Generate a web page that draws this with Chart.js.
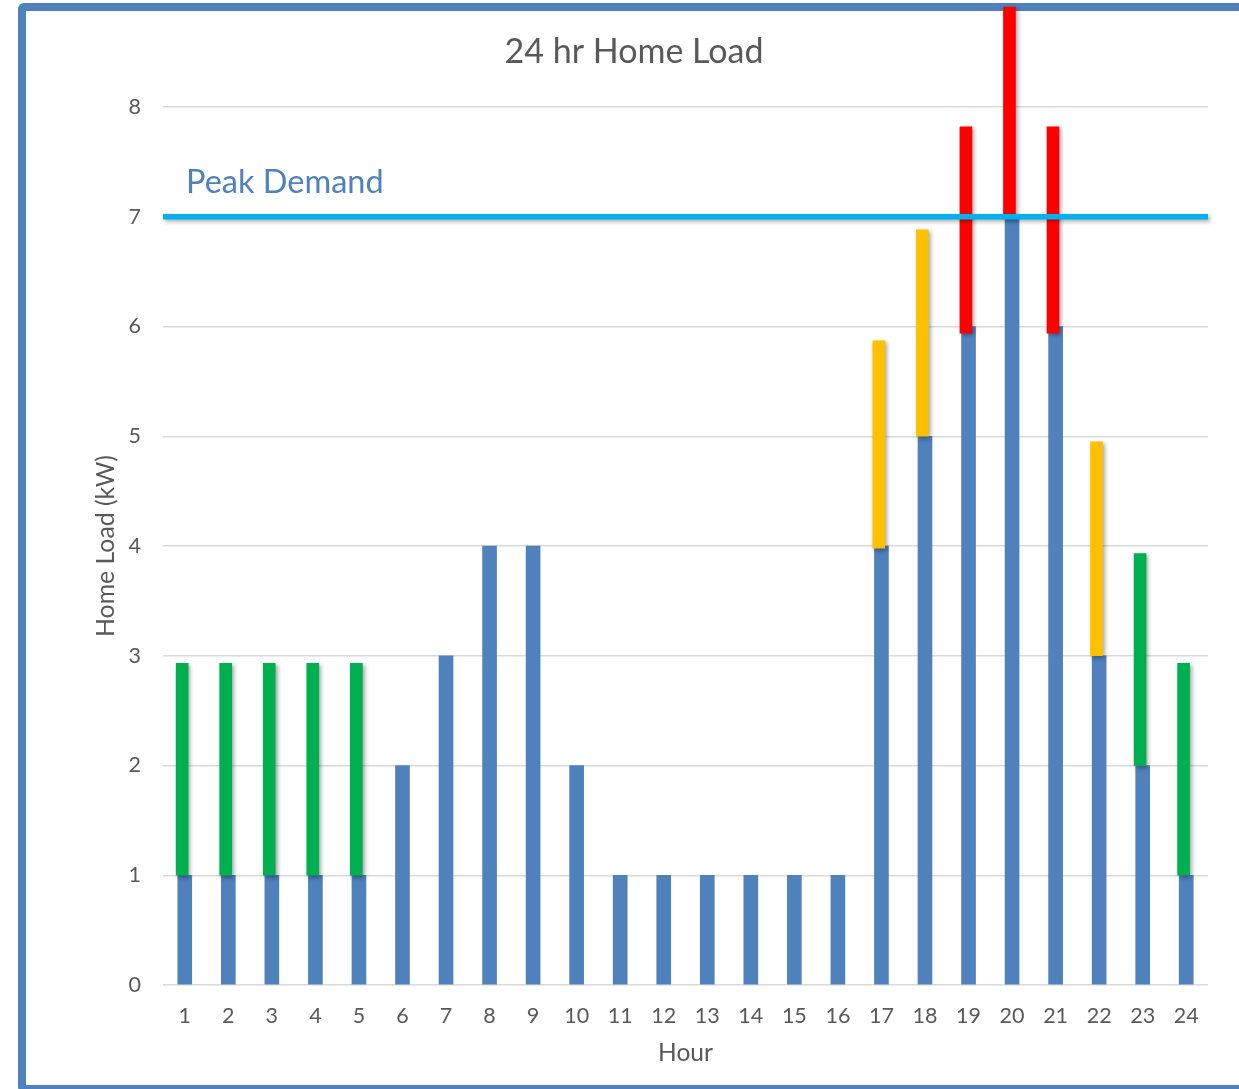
<!DOCTYPE html>
<html>
<head>
<meta charset="utf-8">
<title>24 hr Home Load</title>
<script src="https://cdn.jsdelivr.net/npm/chart.js@4.4.1/dist/chart.umd.min.js"></script>
<style>
  html, body { margin: 0; padding: 0; background: #ffffff; overflow: hidden; }
  #frame {
    position: absolute; left: 18px; top: 3px; width: 1240px; height: 1090px;
    box-sizing: border-box; border: 8px solid #4F81BD; border-radius: 6px;
  }
  #wrap { position: absolute; left: 0; top: 0; width: 1239px; height: 1089px; }
</style>
</head>
<body>
<div id="frame"></div>
<div id="wrap"><canvas id="chart" width="1239" height="1089"></canvas></div>
<script>
// Hour of day
const hours = [1, 2, 3, 4, 5, 6, 7, 8, 9, 10, 11, 12, 13, 14, 15, 16, 17, 18, 19, 20, 21, 22, 23, 24];

// Base household load per hour (kW)
const baseLoad = [1, 1, 1, 1, 1, 2, 3, 4, 4, 2, 1, 1, 1, 1, 1, 1, 4, 5, 6, 7, 6, 3, 2, 1];

// Added load on top of the base (kW): start and end of each segment, null where none
const addedFrom = [1, 1, 1, 1, 1, null, null, null, null, null, null, null, null, null, null, null, 3.98, 5, 5.94, 7, 5.94, 3, 2, 1];
const addedTo   = [2.93, 2.93, 2.93, 2.93, 2.93, null, null, null, null, null, null, null, null, null, null, null, 5.87, 6.88, 7.82, 8.91, 7.82, 4.95, 3.93, 2.93];

// Severity of the added load
const addedLevel = ['low', 'low', 'low', 'low', 'low', null, null, null, null, null, null, null, null, null, null, null, 'mid', 'mid', 'high', 'high', 'high', 'mid', 'low', 'low'];

// Peak demand threshold (kW)
const peakDemand = 7;

// Value axis ticks
const loadTicks = [0, 1, 2, 3, 4, 5, 6, 7, 8];

const levelColors = { low: '#00B050', mid: '#FFC000', high: '#FF0000' };
const textColor = '#595959';
const fontFamily = 'Lato, "Open Sans", sans-serif';
const addedNudge = 0.06; // added-load bars sit a little left of the base bars

const addedData = [];
const addedBg = [];
hours.forEach((h, i) => {
  if (addedFrom[i] !== null) {
    addedData.push({ x: h, y: [addedFrom[i], addedTo[i]] });
    addedBg.push(levelColors[addedLevel[i]]);
  }
});

const firstHour = hours[0] - 0.5;
const lastHour = hours[hours.length - 1] + 0.5;

// Soft drop shadow for the added-load bars and the peak line
const shadowPlugin = {
  id: 'shapeShadow',
  beforeDatasetDraw(chart, args) {
    const ds = chart.data.datasets[args.index];
    if (ds.shadow) {
      const ctx = chart.ctx;
      ctx.save();
      ctx.shadowColor = 'rgba(0,0,0,0.35)';
      ctx.shadowBlur = 4;
      ctx.shadowOffsetX = 2;
      ctx.shadowOffsetY = 2;
    }
  },
  afterDatasetDraw(chart, args) {
    const ds = chart.data.datasets[args.index];
    if (ds.shadow) chart.ctx.restore();
  }
};

// Text label above the peak line
const peakLabelPlugin = {
  id: 'peakLabel',
  afterDatasetsDraw(chart) {
    const { ctx, scales: { x, y } } = chart;
    ctx.save();
    ctx.font = '400 32.5px ' + fontFamily;
    ctx.fillStyle = '#4F81BD';
    ctx.textAlign = 'left';
    ctx.textBaseline = 'alphabetic';
    ctx.fillText('Peak Demand', x.getPixelForValue(firstHour) + 23, y.getPixelForValue(peakDemand) - 24);
    ctx.restore();
  }
};

new Chart(document.getElementById('chart'), {
  data: {
    datasets: [
      {
        type: 'line',
        label: 'Peak Demand',
        data: [{ x: firstHour, y: peakDemand }, { x: lastHour, y: peakDemand }],
        xAxisID: 'x',
        yAxisID: 'y',
        borderColor: '#00B0F0',
        borderWidth: 5.5,
        borderCapStyle: 'butt',
        pointRadius: 0,
        clip: false,
        order: 1,
        shadow: true
      },
      {
        type: 'bar',
        label: 'Added load',
        data: addedData,
        xAxisID: 'x2',
        yAxisID: 'y',
        backgroundColor: addedBg,
        borderWidth: 0,
        barThickness: 12,
        grouped: false,
        clip: false,
        order: 2,
        shadow: true
      },
      {
        type: 'bar',
        label: 'Home Load',
        data: hours.map((h, i) => ({ x: h, y: baseLoad[i] })),
        xAxisID: 'x',
        yAxisID: 'y',
        backgroundColor: '#4F81BD',
        borderWidth: 0,
        barThickness: 14,
        grouped: false,
        order: 3
      }
    ]
  },
  options: {
    responsive: false,
    animation: false,
    devicePixelRatio: 1,
    events: [],
    layout: { padding: { left: 29, right: 0, top: 0, bottom: 0 } },
    plugins: {
      legend: { display: false },
      tooltip: { enabled: false },
      title: {
        display: true,
        text: '24 hr Home Load',
        color: textColor,
        font: { family: fontFamily, size: 34, weight: '400', lineHeight: 1.2 },
        padding: { top: 31.6, bottom: 34.6 }
      }
    },
    scales: {
      x: {
        type: 'linear',
        position: 'bottom',
        offset: false,
        min: firstHour,
        max: lastHour,
        afterBuildTicks: s => { s.ticks = hours.map(v => ({ value: v })); },
        afterFit: s => { s.height = 104; },
        grid: { display: false, drawTicks: false, offset: false },
        border: { display: false },
        ticks: {
          color: textColor,
          font: { family: fontFamily, size: 21.5 },
          padding: 18,
          autoSkip: false,
          maxRotation: 0,
          callback: v => String(v)
        },
        title: {
          display: true,
          text: 'Hour',
          color: textColor,
          font: { family: fontFamily, size: 24.5 },
          padding: { top: 0, bottom: 21 }
        }
      },
      x2: {
        type: 'linear',
        display: false,
        offset: false,
        grid: { offset: false },
        min: firstHour + addedNudge,
        max: lastHour + addedNudge
      },
      y: {
        type: 'linear',
        position: 'left',
        min: loadTicks[0],
        max: loadTicks[loadTicks.length - 1],
        afterBuildTicks: s => { s.ticks = loadTicks.map(v => ({ value: v })); },
        afterFit: s => { s.width = 134; },
        grid: { color: '#D9D9D9', lineWidth: 1.5, drawTicks: false },
        border: { display: false },
        ticks: {
          color: textColor,
          font: { family: fontFamily, size: 21.5 },
          padding: 22
        },
        title: {
          display: true,
          text: 'Home Load (kW)',
          color: textColor,
          font: { family: fontFamily, size: 24.8 },
          padding: { top: 62, bottom: 0 }
        }
      },
      yRight: {
        type: 'linear',
        position: 'right',
        afterFit: s => { s.width = 31; },
        grid: { display: false, drawTicks: false },
        border: { display: false },
        ticks: { display: false }
      }
    }
  },
  plugins: [shadowPlugin, peakLabelPlugin]
});
</script>
</body>
</html>
